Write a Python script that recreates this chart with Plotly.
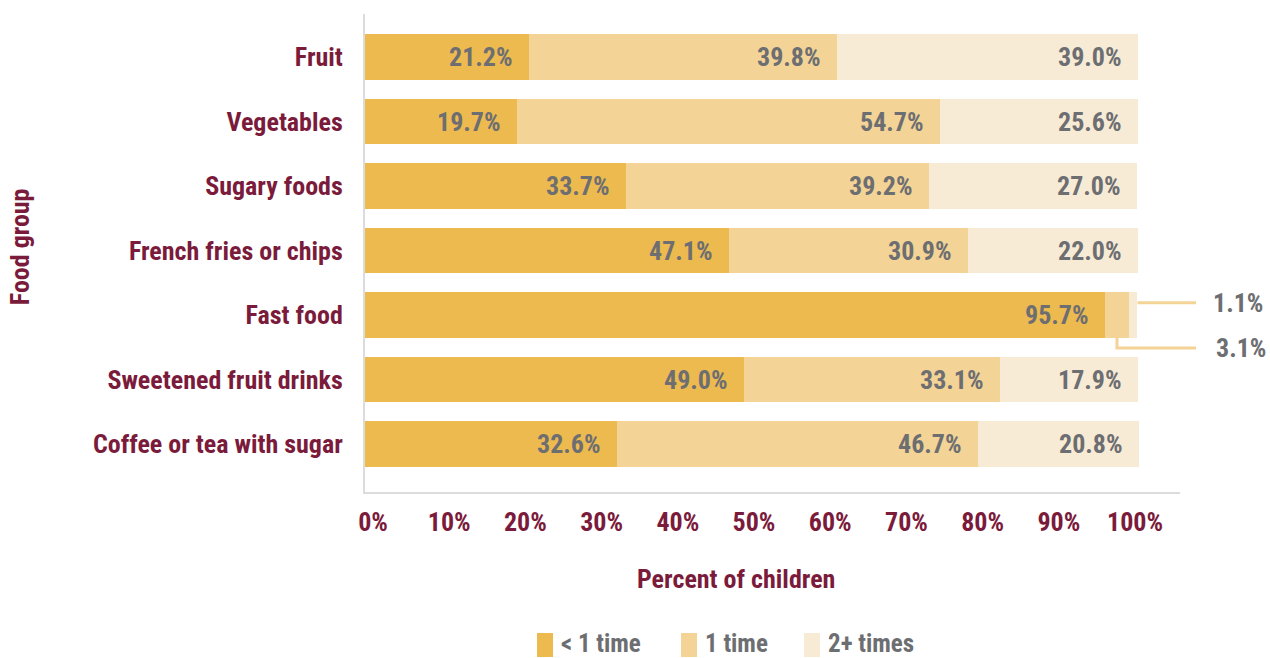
import plotly.graph_objects as go

# Data
food_groups = ["Fruit", "Vegetables", "Sugary foods", "French fries or chips",
               "Fast food", "Sweetened fruit drinks", "Coffee or tea with sugar"]
less_than_once = [21.2, 19.7, 33.7, 47.1, 95.7, 49.0, 32.6]
once = [39.8, 54.7, 39.2, 30.9, 3.1, 33.1, 46.7]
two_plus = [39.0, 25.6, 27.0, 22.0, 1.1, 17.9, 20.8]
series_names = ["< 1 time", "1 time", "2+ times"]
x_ticks = list(range(0, 101, 10))

# Style
FONT = "Roboto Condensed, Open Sans Condensed, DejaVu Sans Condensed, sans-serif"
MAROON = "#7b1b3b"
GRAY = "#6d6e71"
COLORS = ["#edba50", "#f3d496", "#f7ebd6"]
AXIS_COLOR = "#dcdcdc"
FS = 26

X_MAX = 105.4
Y_TOP, Y_BOTTOM = -0.667, 6.744

fig = go.Figure()
series = [less_than_once, once, two_plus]
for name, vals, col in zip(series_names, series, COLORS):
    fig.add_trace(go.Bar(
        y=food_groups, x=vals, name=name, orientation="h",
        marker=dict(color=col, line=dict(width=0)),
        width=0.71, showlegend=False, hoverinfo="x+y",
    ))

# Invisible trace carrying the tick-label axis
fig.add_trace(go.Scatter(x=[0, 100], y=[food_groups[0], food_groups[0]], xaxis="x2",
                         mode="markers", marker=dict(opacity=0), showlegend=False,
                         hoverinfo="skip"))

# Value labels, right-aligned inside each segment
small_cut = 5.0
annotations = []
for i, cat in enumerate(food_groups):
    cum = 0.0
    for vals in series:
        v = vals[i]
        cum += v
        if v >= small_cut:
            annotations.append(dict(
                x=cum, y=cat, xref="x", yref="y", text=f"{v:.1f}%",
                xanchor="right", yanchor="middle", xshift=-14, showarrow=False,
                font=dict(family=FONT, size=FS, color=GRAY, weight="bold"),
            ))


def ypaper(idx, offset=0.0):
    return (Y_BOTTOM - (idx + offset)) / (Y_BOTTOM - Y_TOP)


def xpaper(v):
    return v / X_MAX


# Leader lines for the small Fast food segments
shapes = []
ff = food_groups.index("Fast food")
total_ff = less_than_once[ff] + once[ff] + two_plus[ff]
mid_once = less_than_once[ff] + once[ff] / 2
line_end = 1.0196
y_hi = ypaper(ff, -0.19)
y_lo = ypaper(ff, 0.51)
y_bar_bottom = ypaper(ff, 0.355)
leader = dict(color="#f3d496", width=3)
shapes.append(dict(type="line", xref="paper", yref="paper",
                   x0=xpaper(total_ff), x1=line_end, y0=y_hi, y1=y_hi, line=leader))
shapes.append(dict(type="path", xref="paper", yref="paper",
                   path=f"M {xpaper(mid_once)} {y_bar_bottom} L {xpaper(mid_once)} {y_lo} L {line_end} {y_lo}",
                   line=leader))
annotations.append(dict(x=1.104, y=y_hi, xref="paper", yref="paper",
                        text=f"{two_plus[ff]:.1f}%", xanchor="right", yanchor="middle",
                        showarrow=False,
                        font=dict(family=FONT, size=FS, color=GRAY, weight="bold")))
annotations.append(dict(x=1.108, y=y_lo, xref="paper", yref="paper",
                        text=f"{once[ff]:.1f}%", xanchor="right", yanchor="middle",
                        showarrow=False,
                        font=dict(family=FONT, size=FS, color=GRAY, weight="bold")))

# Axis titles
annotations.append(dict(x=0.455, y=-0.183, xref="paper", yref="paper",
                        text="Percent of children", showarrow=False,
                        xanchor="center", yanchor="middle",
                        font=dict(family=FONT, size=FS, color=MAROON, weight="bold")))
annotations.append(dict(x=-0.424, y=0.513, xref="paper", yref="paper",
                        text="Food group", showarrow=False, textangle=-90,
                        xanchor="center", yanchor="middle",
                        font=dict(family=FONT, size=FS, color=MAROON, weight="bold")))

# Legend drawn below the chart
leg_x = [537, 681, 804]
for name, col, px in zip(series_names, COLORS, leg_x):
    x0 = (px - 365) / 815
    x1 = (px + 16 - 365) / 815
    shapes.append(dict(type="rect", xref="paper", yref="paper",
                       x0=x0, x1=x1, y0=(492 - 633) / 478, y1=(492 - 657) / 478,
                       fillcolor=col, line=dict(width=0)))
    annotations.append(dict(x=(px + 22 - 365) / 815, y=(492 - 643) / 478,
                            xref="paper", yref="paper", text=name, showarrow=False,
                            xanchor="left", yanchor="middle",
                            font=dict(family=FONT, size=25, color=GRAY, weight="bold")))

fig.update_layout(
    width=1270, height=658,
    margin=dict(l=365, r=90, t=14, b=166),
    paper_bgcolor="white", plot_bgcolor="white",
    barmode="stack",
    shapes=shapes, annotations=annotations,
    font=dict(family=FONT),
    xaxis=dict(range=[0, X_MAX], showticklabels=False,
               showgrid=False, zeroline=False, showline=True,
               linecolor=AXIS_COLOR, linewidth=2, ticks=""),
    xaxis2=dict(overlaying="x", anchor="y", side="bottom", range=[-1.05, 105.9],
                tickvals=x_ticks, ticktext=[f"{t}%" for t in x_ticks],
                showgrid=False, zeroline=False, showline=False,
                ticks="outside", ticklen=7, tickcolor="rgba(0,0,0,0)",
                tickfont=dict(family=FONT, size=FS, color=MAROON, weight="bold")),
)
fig.update_yaxes(
    range=[Y_BOTTOM, Y_TOP], categoryorder="array", categoryarray=food_groups,
    showgrid=False, zeroline=False, showline=True, linecolor=AXIS_COLOR, linewidth=2,
    ticks="outside", ticklen=15, tickcolor="rgba(0,0,0,0)",
    tickfont=dict(family=FONT, size=FS, color=MAROON, weight="bold"),
)

fig.write_html("out.html")
